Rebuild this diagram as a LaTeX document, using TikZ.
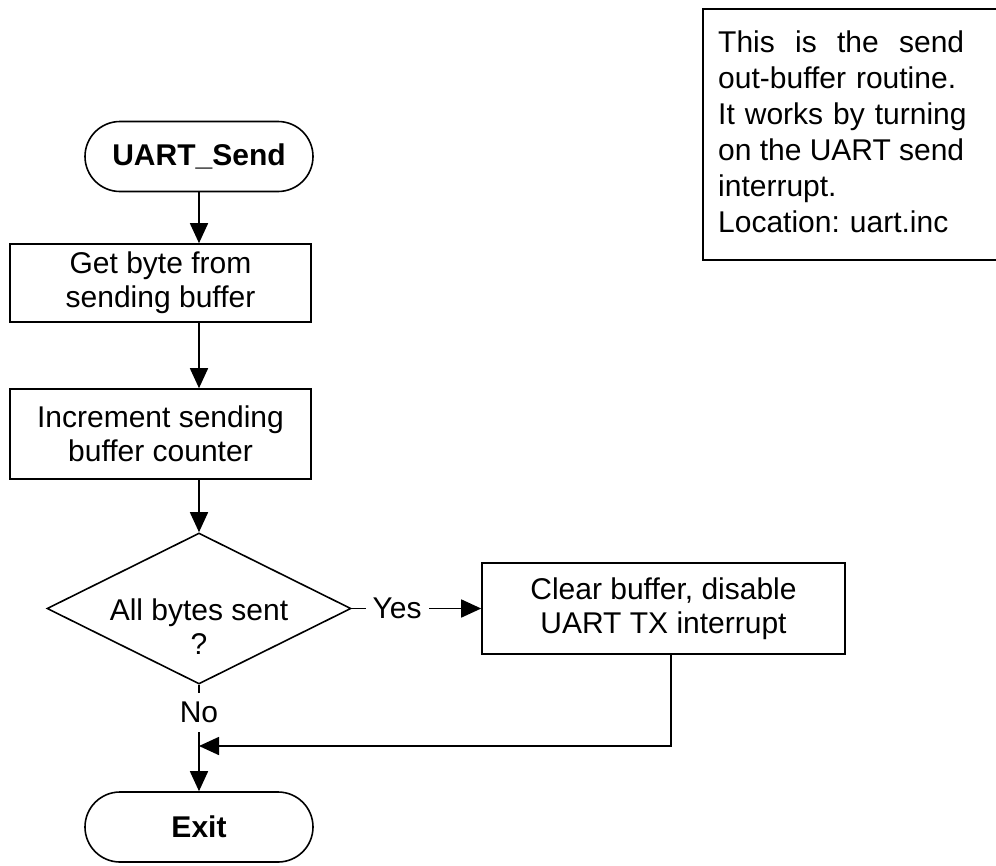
\documentclass[tikz,border=0pt]{standalone}
\usepackage{fontspec}
\setmainfont{Liberation Sans}
\usetikzlibrary{shapes.geometric,arrows.meta}
\frenchspacing
\newcommand{\spreadline}[1]{\leavevmode\hbox to 246pt{#1}}
\begin{document}
\begin{tikzpicture}[x=1pt,y=1pt,
  txt/.style={font=\fontsize{30}{34}\selectfont},
  flow/.style={line width=1.6pt},
  arr/.style={flow,-{Triangle[length=20pt,width=18pt]}},
  term/.style={draw,line width=1.6pt,rounded corners=35pt,minimum width=228pt,
    minimum height=70pt,inner sep=0pt,font=\fontsize{30}{34}\selectfont\bfseries},
  proc/.style={draw,line width=1.6pt,minimum width=301pt,align=center,inner sep=0pt,txt},
  decision/.style={draw,diamond,line width=1.6pt,minimum width=304pt,minimum height=151pt,inner sep=0pt},
  lbl/.style={txt,fill=white}
]
\useasboundingbox (0,0) rectangle (996,-865);
\clip (0,0) rectangle (996,-865);

% main column
\node[term] (start) at (199,-156.5) {UART\_Send};
\node[proc,minimum height=78pt] (get) at (160.5,-283) {Get byte from\\sending buffer};
\node[proc,minimum height=90pt] (inc) at (160.5,-434) {Increment sending\\buffer counter};
\node[decision] (dec) at (199,-608.5) {};
\node[txt,align=center,inner sep=0pt] (dectext) at (199,-627) {All bytes sent\\?};
\node[proc,minimum width=363pt,minimum height=91pt] (clear) at (663.5,-608.5) {Clear buffer, disable\\UART TX interrupt};
\node[term] (exit) at (199,-827) {Exit};
\coordinate (merge) at (199,-746);

% connectors
\draw[arr] (start.south) -- (start.south |- get.north);
\draw[arr] (start.south |- get.south) -- (start.south |- inc.north);
\draw[arr] (start.south |- inc.south) -- (dec.north);
\draw[arr] (dec.east) -- node[lbl,pos=0.35,inner xsep=7pt,inner ysep=0pt] {Yes} (clear.west);
\draw[arr] (dec.south) -- node[lbl,pos=0.26,inner xsep=0pt,inner ysep=9pt] {No} (exit.north);
\draw[arr] ([xshift=7.5pt]clear.south) |- (merge);

% routine note
\node[draw,line width=1.6pt,anchor=north west,minimum width=330pt,minimum height=251pt,inner sep=0pt] (note) at (702,-8) {};
\node[anchor=north west,text width=250pt,align=left,inner sep=0pt,
  font=\fontsize{30}{36}\selectfont] (notetext) at ([xshift=16pt,yshift=-23pt]note.north west)
  {\spreadline{This\hfil is\hfil the\hfil send}\\
   out-buffer routine.\\
   It works by turning\\
   \spreadline{on\hfil the\hfil UART\hfil send}\\
   interrupt.\\
   Location: uart.inc};
\end{tikzpicture}
\end{document}
